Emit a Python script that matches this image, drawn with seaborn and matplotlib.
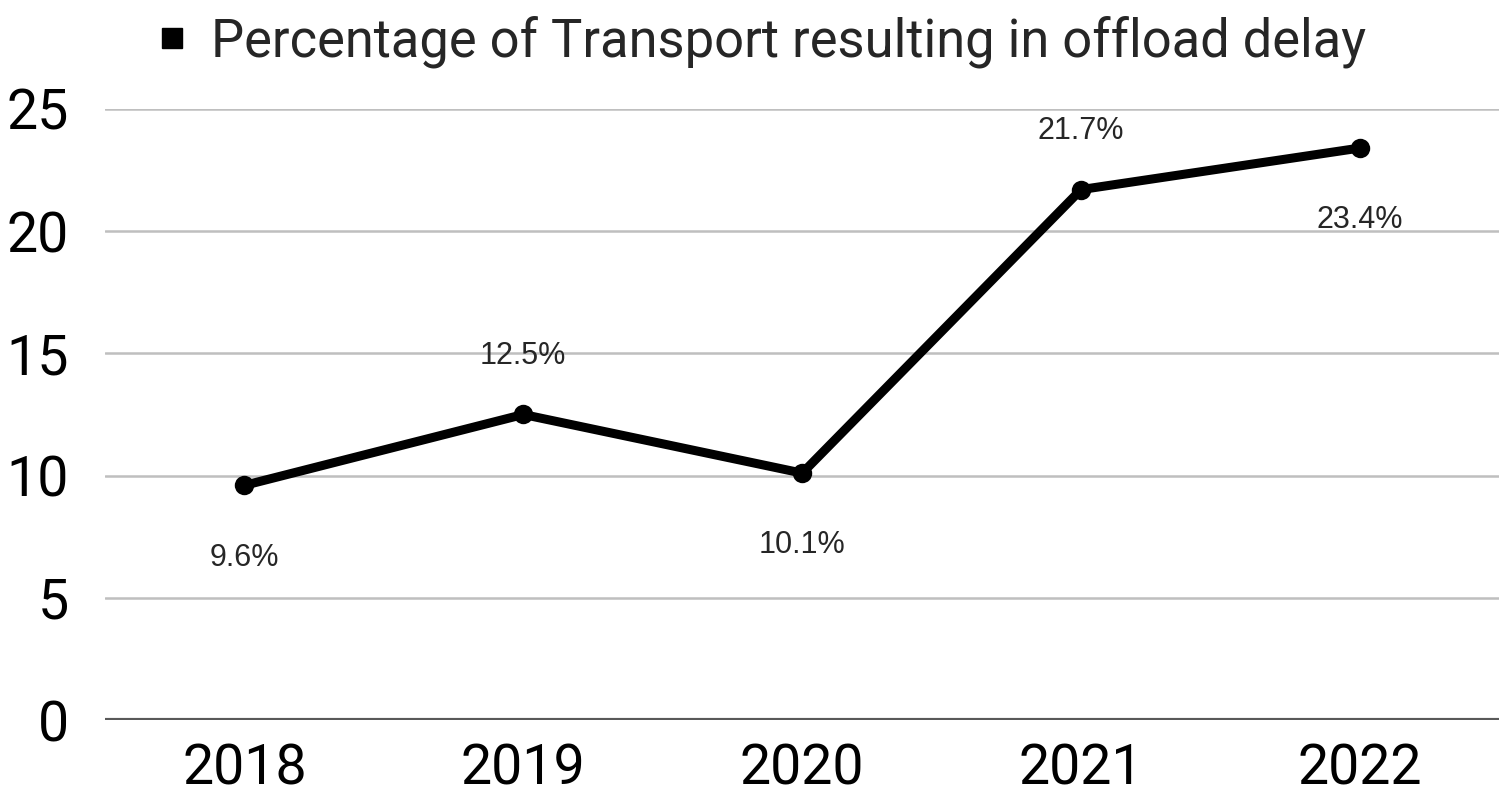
import matplotlib
matplotlib.use('Agg')
import matplotlib.pyplot as plt
from matplotlib.lines import Line2D
import seaborn as sns

years = ['2018', '2019', '2020', '2021', '2022']
pct = [9.6, 12.5, 10.1, 21.7, 23.4]
point_labels = ['9.6%', '12.5%', '10.1%', '21.7%', '23.4%']
label_side = ['below', 'above', 'below', 'above', 'below']
y_ticks = [0, 5, 10, 15, 20, 25]
series_name = 'Percentage of Transport resulting in offload delay'

sns.set_style('white')
plt.rcParams['font.family'] = ['Roboto', 'DejaVu Sans']

fig = plt.figure(figsize=(15.1, 7.95), dpi=100)
ax = fig.add_axes([0.0695, 0.0943, 0.9235, 0.7687])

for t in y_ticks[1:]:
    ax.axhline(t, color='#bfbfbf', linewidth=1.8, zorder=0)
ax.axhline(0, color='#595959', linewidth=3, zorder=1)

sns.lineplot(x=years, y=pct, marker='o', color='black', linewidth=6.5,
             markersize=14, markeredgewidth=0, sort=False, ax=ax, zorder=3)

for i, (v, lab, side) in enumerate(zip(pct, point_labels, label_side)):
    dy = 42 if side == 'above' else -52
    ax.annotate(lab, (i, v), xytext=(0, dy), textcoords='offset points',
                ha='center', va='center', fontsize=22,
                family=['Liberation Sans', 'DejaVu Sans'])

ax.set_xlim(-0.5, 4.5)
ax.set_ylim(0, 25)
ax.set_yticks(y_ticks)
ax.set_xlabel('')
ax.set_ylabel('')
ax.tick_params(axis='both', length=0, labelsize=40, colors='black')
ax.tick_params(axis='y', pad=26)
ax.tick_params(axis='x', pad=16)
sns.despine(ax=ax, left=True, bottom=True)

handle = Line2D([], [], marker='s', color='black', linestyle='none', markersize=14)
fig.legend([handle], [series_name], loc='center', bbox_to_anchor=(0.504, 0.948),
           frameon=False, fontsize=37.8, handlelength=0.6, handletextpad=0.45,
           borderaxespad=0)

fig.savefig('out.png', dpi=100)
